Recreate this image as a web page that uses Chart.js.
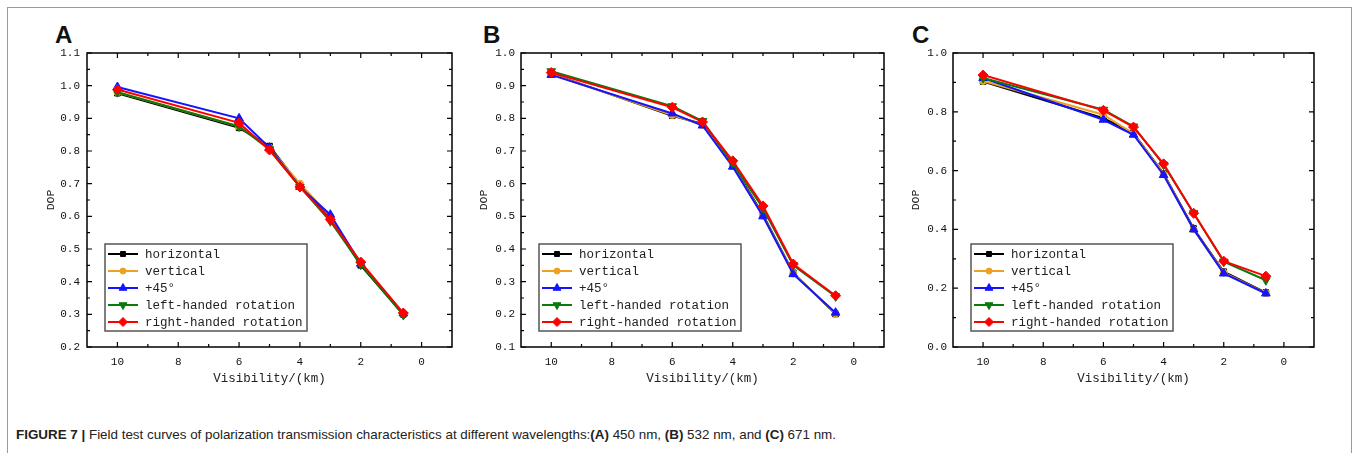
<!DOCTYPE html>
<html><head><meta charset="utf-8">
<script src="https://cdn.jsdelivr.net/npm/chart.js@4.4.1/dist/chart.umd.min.js"></script>
<style>
body{margin:0;width:1356px;height:453px;background:#fff;overflow:hidden;position:relative;font-family:"Liberation Sans",Arial,sans-serif}
#frame{position:absolute;left:7px;top:7px;width:1345px;height:470px;border:1px solid #9a9a9a;box-sizing:border-box}
canvas{position:absolute}
.lbl{position:absolute;font:bold 24px "Liberation Sans",Arial,sans-serif;line-height:24px;color:#111}
#cap{position:absolute;left:16px;top:427px;font-size:13.4px;line-height:16px;color:#222;white-space:nowrap}
</style></head><body>
<div id="frame"></div>
<div class="lbl" style="left:55px;top:23px">A</div>
<div class="lbl" style="left:483px;top:23px">B</div>
<div class="lbl" style="left:912px;top:23px">C</div>
<div style="position:absolute;left:0;top:0;width:460px;height:400px"><canvas id="cA"></canvas></div>
<div style="position:absolute;left:440px;top:0;width:450px;height:400px"><canvas id="cB"></canvas></div>
<div style="position:absolute;left:880px;top:0;width:440px;height:400px"><canvas id="cC"></canvas></div>
<div id="cap"><b>FIGURE 7 |</b> Field test curves of polarization transmission characteristics at different wavelengths:<b>(A)</b> 450 nm, <b>(B)</b> 532 nm, and <b>(C)</b> 671 nm.</div>
<script>
// ---- data ----
const visibility = [10, 6, 5, 4, 3, 2, 0.6];
const seriesNames = ['horizontal', 'vertical', '+45°', 'left-handed rotation', 'right-handed rotation'];
const xTickValues = [10, 8, 6, 4, 2, 0];

const yTicksA = [0.2, 0.3, 0.4, 0.5, 0.6, 0.7, 0.8, 0.9, 1.0, 1.1];
const yTicksB = [0.1, 0.2, 0.3, 0.4, 0.5, 0.6, 0.7, 0.8, 0.9, 1.0];
const yTicksC = [0.0, 0.2, 0.4, 0.6, 0.8, 1.0];

const horizontalA = [0.977, 0.871, 0.815, 0.695, 0.595, 0.450, 0.300];
const verticalA   = [0.980, 0.875, 0.810, 0.700, 0.600, 0.455, 0.302];
const plus45A     = [0.996, 0.900, 0.810, 0.690, 0.605, 0.455, 0.303];
const leftA       = [0.980, 0.875, 0.805, 0.690, 0.585, 0.452, 0.298];
const rightA      = [0.988, 0.886, 0.803, 0.690, 0.590, 0.460, 0.304];

const horizontalB = [0.937, 0.808, 0.783, 0.658, 0.505, 0.327, 0.201];
const verticalB   = [0.935, 0.810, 0.780, 0.655, 0.502, 0.325, 0.203];
const plus45B     = [0.933, 0.815, 0.778, 0.652, 0.500, 0.323, 0.205];
const leftB       = [0.944, 0.837, 0.792, 0.663, 0.525, 0.350, 0.255];
const rightB      = [0.940, 0.834, 0.789, 0.670, 0.532, 0.354, 0.257];

const horizontalC = [0.903, 0.778, 0.727, 0.590, 0.403, 0.256, 0.185];
const verticalC   = [0.905, 0.790, 0.725, 0.588, 0.400, 0.253, 0.183];
const plus45C     = [0.915, 0.773, 0.722, 0.585, 0.400, 0.250, 0.182];
const leftC       = [0.915, 0.807, 0.750, 0.620, 0.455, 0.290, 0.227];
const rightC      = [0.925, 0.805, 0.748, 0.623, 0.455, 0.292, 0.241];

// ---- styles ----
const seriesStyles = [
  {color:'#000000', pointStyle:'rect', radius:4, rotation:0, order:4},
  {color:'#F0A020', pointStyle:'circle', radius:3.5, rotation:0, order:3},
  {color:'#1414FF', pointStyle:'triangle', radius:5, rotation:0, order:2},
  {color:'#0A7A0A', pointStyle:'triangle', radius:5, rotation:180, order:1},
  {color:'#FF0000', pointStyle:'rectRot', radius:5, rotation:0, order:0}
];
const MONO = '"Liberation Mono", "DejaVu Sans Mono", monospace';

const frameTicks = {
  id:'frameTicks',
  beforeDatasetsDraw(chart){
    const {ctx, chartArea:ca, scales:{x, y}} = chart;
    ctx.save();
    ctx.strokeStyle = '#000'; ctx.lineWidth = 1.5;
    ctx.strokeRect(ca.left, ca.top, ca.right-ca.left, ca.bottom-ca.top);
    ctx.lineWidth = 1.2;
    const xt = xTickValues;
    const yt = chart.options.yTickList;
    const majL = 5, minL = 3;
    const tickX = (v, L) => { const p = x.getPixelForValue(v);
      ctx.beginPath(); ctx.moveTo(p, ca.bottom); ctx.lineTo(p, ca.bottom-L);
      ctx.moveTo(p, ca.top); ctx.lineTo(p, ca.top+L); ctx.stroke(); };
    const tickY = (v, L) => { const p = y.getPixelForValue(v);
      ctx.beginPath(); ctx.moveTo(ca.left, p); ctx.lineTo(ca.left+L, p);
      ctx.moveTo(ca.right, p); ctx.lineTo(ca.right-L, p); ctx.stroke(); };
    xt.forEach(v => tickX(v, majL));
    for (let i=0;i<xt.length-1;i++) tickX((xt[i]+xt[i+1])/2, minL);
    yt.forEach(v => tickY(v, majL));
    for (let i=0;i<yt.length-1;i++) tickY((yt[i]+yt[i+1])/2, minL);
    ctx.restore();
  },
  afterDatasetsDraw(chart){
    const {ctx, chartArea:ca} = chart;
    const L = chart.options.boxLegend;
    const x0 = ca.left + L.offsetX, w = L.width, h = L.height, y0 = ca.bottom - L.offsetY - h;
    ctx.save();
    ctx.strokeStyle = '#555'; ctx.lineWidth = 1.5; ctx.strokeRect(x0, y0, w, h);
    chart.data.datasets.forEach((ds, i) => {
      const yy = y0 + 10 + i*17;
      ctx.strokeStyle = ds.borderColor; ctx.lineWidth = 2;
      ctx.beginPath(); ctx.moveTo(x0+3, yy); ctx.lineTo(x0+33, yy); ctx.stroke();
      ctx.fillStyle = ds.pointBackgroundColor; ctx.strokeStyle = ds.pointBorderColor; ctx.lineWidth = 1;
      Chart.helpers.drawPoint(ctx, {pointStyle:ds.pointStyle, rotation:ds.pointRotation, radius:ds.pointRadius-0.5, borderWidth:1}, x0+18, yy);
      ctx.fillStyle = '#222'; ctx.font = '12.5px ' + MONO; ctx.textBaseline = 'middle'; ctx.textAlign = 'left';
      ctx.fillText(ds.label, x0+40, yy+1);
    });
    ctx.restore();
  }
};

function makePanel(id, series, yTicks, yMin, yMax, lay){
  const datasets = series.map((vals, i) => {
    const s = seriesStyles[i];
    return {
      label: seriesNames[i],
      data: visibility.map((v, k) => ({x:v, y:vals[k]})),
      borderColor: s.color, backgroundColor: s.color,
      pointBackgroundColor: s.color, pointBorderColor: s.color,
      pointStyle: s.pointStyle, pointRotation: s.rotation, pointRadius: s.radius,
      pointBorderWidth: 1, borderWidth: 2, order: s.order, tension: 0
    };
  });
  return new Chart(document.getElementById(id), {
    type: 'line',
    data: {datasets},
    options: {
      responsive: true, maintainAspectRatio: false, animation: false,
      devicePixelRatio: 1,
      yTickList: yTicks,
      boxLegend: {offsetX: 18, offsetY: 16, width: 202, height: 87},
      layout: {padding: {left: 0, top: 53, right: lay.right, bottom: 0}},
      plugins: {legend: {display: false}, tooltip: {enabled: false}},
      scales: {
        x: {
          type: 'linear', reverse: true, min: -1, max: 11,
          afterBuildTicks: s => { s.ticks = xTickValues.map(v => ({value: v})); },
          afterFit: s => { s.height = 53; },
          grid: {display: false, drawTicks: false}, border: {display: false},
          ticks: {autoSkip: false, maxRotation: 0, padding: 8, color: '#111',
                  font: {family: MONO, size: 11}, callback: v => String(v)},
          title: {display: true, text: 'Visibility/(km)', color: '#222',
                  font: {family: MONO, size: 12.5}, padding: {top: 0, bottom: 14}}
        },
        y: {
          type: 'linear', min: yMin, max: yMax,
          afterBuildTicks: s => { s.ticks = yTicks.map(v => ({value: v})); },
          afterFit: s => { s.width = lay.yWidth; },
          grid: {display: false, drawTicks: false}, border: {display: false},
          ticks: {autoSkip: false, padding: lay.tickPad, color: '#111',
                  font: {family: MONO, size: 11}, callback: v => Number(v).toFixed(1)},
          title: {display: true, text: 'DOP', color: '#222',
                  font: {family: MONO, size: 11.5}, padding: {top: lay.titlePad, bottom: 0}}
        }
      }
    },
    plugins: [frameTicks]
  });
}

makePanel('cA', [horizontalA, verticalA, plus45A, leftA, rightA], yTicksA, 0.2, 1.1,
  {right: 8, yWidth: 87, tickPad: 7, titlePad: 44});
makePanel('cB', [horizontalB, verticalB, plus45B, leftB, rightB], yTicksB, 0.1, 1.0,
  {right: 6, yWidth: 81, tickPad: 6, titlePad: 37});
makePanel('cC', [horizontalC, verticalC, plus45C, leftC, rightC], yTicksC, 0.0, 1.0,
  {right: 4, yWidth: 73, tickPad: 6, titlePad: 29});
</script>
</body></html>
